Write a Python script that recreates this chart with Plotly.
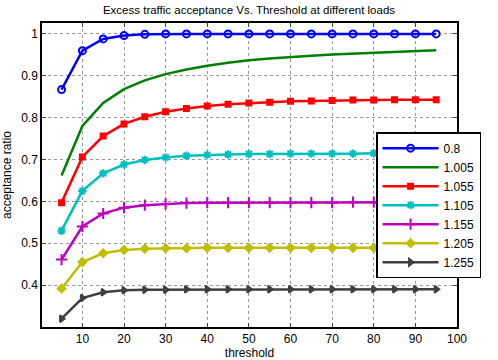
import plotly.graph_objects as go

threshold = [5, 10, 15, 20, 25, 30, 35, 40, 45, 50, 55, 60, 65, 70, 75, 80, 85, 90, 95]

load_labels = ["0.8", "1.005", "1.055", "1.105", "1.155", "1.205", "1.255"]

acc_0_8 = [0.867, 0.960, 0.988, 0.996, 0.999, 1.0, 1.0, 1.0, 1.0, 1.0, 1.0, 1.0, 1.0, 1.0, 1.0, 1.0, 1.0, 1.0, 1.0]
acc_1_005 = [0.662, 0.780, 0.835, 0.868, 0.889, 0.904, 0.915, 0.924, 0.931, 0.937, 0.941, 0.945, 0.948, 0.951, 0.953, 0.956, 0.958, 0.960, 0.961]
acc_1_055 = [0.597, 0.706, 0.756, 0.785, 0.802, 0.814, 0.822, 0.828, 0.832, 0.835, 0.837, 0.839, 0.840, 0.841, 0.842, 0.842, 0.843, 0.843, 0.843]
acc_1_105 = [0.530, 0.625, 0.667, 0.688, 0.699, 0.705, 0.709, 0.711, 0.712, 0.713, 0.713, 0.714, 0.714, 0.714, 0.714, 0.715, 0.715, 0.715, 0.715]
acc_1_155 = [0.461, 0.540, 0.571, 0.585, 0.591, 0.594, 0.596, 0.597, 0.597, 0.597, 0.597, 0.597, 0.597, 0.597, 0.598, 0.598, 0.598, 0.598, 0.598]
acc_1_205 = [0.392, 0.455, 0.476, 0.484, 0.487, 0.488, 0.488, 0.489, 0.489, 0.489, 0.489, 0.489, 0.489, 0.489, 0.489, 0.489, 0.489, 0.489, 0.489]
acc_1_255 = [0.320, 0.369, 0.383, 0.388, 0.389, 0.389, 0.390, 0.390, 0.390, 0.390, 0.390, 0.390, 0.390, 0.390, 0.390, 0.390, 0.390, 0.390, 0.390]

series = [acc_0_8, acc_1_005, acc_1_055, acc_1_105, acc_1_155, acc_1_205, acc_1_255]
colors = ["#0000ff", "#008000", "#ff0000", "#00bfbf", "#bf00bf", "#bfbf00", "#404040"]
symbols = ["circle-open", None, "square", "asterisk-open", "cross-thin-open", "diamond", "triangle-right"]
sizes = [7, 0, 5, 7, 8, 6, 6]

x_ticks = [10, 20, 30, 40, 50, 60, 70, 80, 90, 100]
y_ticks = [0.4, 0.5, 0.6, 0.7, 0.8, 0.9, 1.0]
y_tick_text = ["0.4", "0.5", "0.6", "0.7", "0.8", "0.9", "1"]

fig = go.Figure()
for name, ys, c, s, sz in zip(load_labels, series, colors, symbols, sizes):
    if s is None:
        fig.add_trace(go.Scatter(x=threshold, y=ys, name=name, mode="lines",
                                 line=dict(color=c, width=2.5)))
    else:
        fig.add_trace(go.Scatter(x=threshold, y=ys, name=name, mode="lines+markers",
                                 line=dict(color=c, width=2.5),
                                 marker=dict(symbol=s, size=sz, color=c,
                                             line=dict(color=c, width=2))))

font = "Liberation Sans, Arial, Helvetica, sans-serif"
fig.update_layout(
    width=498, height=360,
    margin=dict(l=42, r=41, t=23, b=33, autoexpand=False),
    paper_bgcolor="white", plot_bgcolor="white",
    font=dict(family=font, size=12, color="black"),
    title=dict(text="Excess traffic acceptance Vs. Threshold at different loads",
               x=0.5, xanchor="center", y=0.972, yanchor="middle",
               font=dict(size=11.5)),
    showlegend=True,
    legend=dict(x=0.805, y=0.641, xanchor="left", yanchor="top",
                bgcolor="white", bordercolor="black", borderwidth=1.5,
                itemwidth=56, font=dict(size=12), tracegroupgap=0,
                itemsizing="trace"),
)
fig.update_xaxes(range=[0.3, 100], tickvals=x_ticks, ticks="inside", ticklen=4,
                 showline=True, linecolor="black", linewidth=1.5, mirror="allticks",
                 showgrid=True, gridcolor="#999999", griddash="dot", gridwidth=1,
                 zeroline=False, automargin=False,
                 title=dict(text="threshold", font=dict(size=12)))
fig.update_yaxes(range=[0.3, 1.026], tickvals=y_ticks, ticktext=y_tick_text,
                 ticks="inside", ticklen=4,
                 showline=True, linecolor="black", linewidth=1.5, mirror="allticks",
                 showgrid=True, gridcolor="#999999", griddash="dot", gridwidth=1,
                 zeroline=False, automargin=False,
                 title=dict(text="acceptance ratio", font=dict(size=12)))

fig.write_html("out.html")
